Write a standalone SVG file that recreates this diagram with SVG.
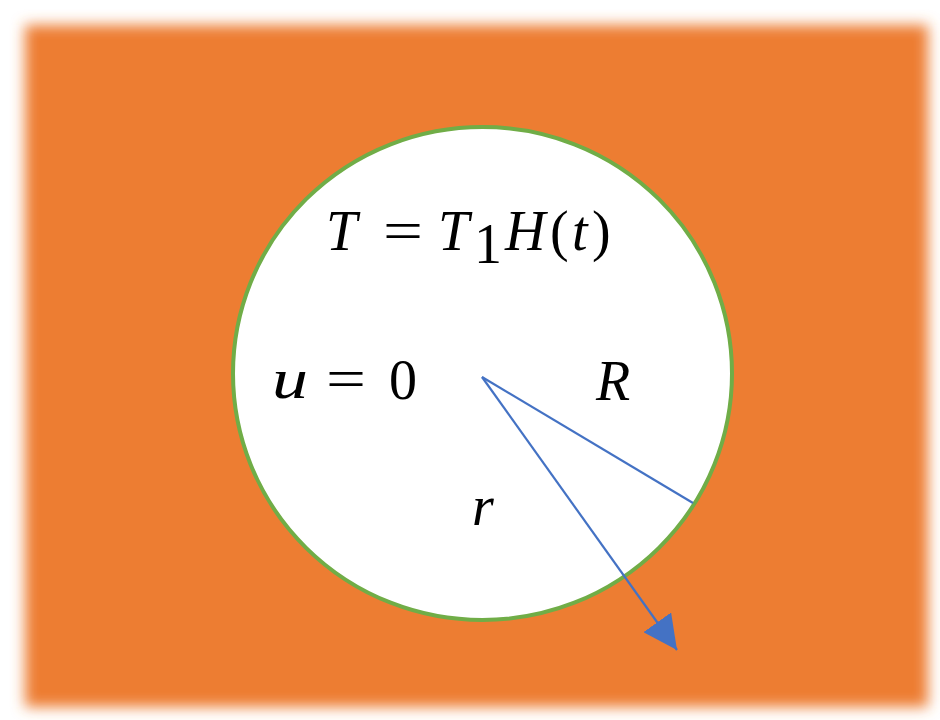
<svg xmlns="http://www.w3.org/2000/svg" width="940" height="720" viewBox="0 0 940 720">
  <defs>
    <filter id="soft" x="-10%" y="-10%" width="120%" height="120%">
      <feGaussianBlur stdDeviation="7"/>
    </filter>
    <marker id="arrow" viewBox="0 0 34 34" refX="34" refY="17" markerWidth="34" markerHeight="34" markerUnits="userSpaceOnUse" orient="auto">
      <path d="M0,0 L34,17 L0,34 z" fill="#4472C4"/>
    </marker>
  </defs>
  <style>
    .m { font-family: "Liberation Serif", "DejaVu Serif", serif; fill: #000; font-size: 56px; }
    .i { font-style: italic; }
    .ln { stroke: #4472C4; stroke-width: 2.2; fill: none; }
  </style>
  <rect width="940" height="720" fill="#ffffff"/>
  <g id="background">
    <rect x="25" y="25" width="903" height="682" fill="#ED7D31" filter="url(#soft)"/>
  </g>
  <g id="domain">
    <ellipse cx="482.5" cy="373.5" rx="249.5" ry="246.5" fill="#ffffff" stroke="#70AD47" stroke-width="4"/>
  </g>
  <g id="labels">
    <g id="label-T">
      <text class="m i" x="326" y="250">T</text>
      <text class="m" x="383" y="250" textLength="40" lengthAdjust="spacingAndGlyphs">=</text>
      <text class="m i" x="438" y="250">T</text>
      <text class="m" x="474" y="263" font-size="38">1</text>
      <text class="m i" x="505" y="250">H</text>
      <text class="m" x="550" y="250">(</text>
      <text class="m i" x="572" y="250">t</text>
      <text class="m" x="592" y="250">)</text>
    </g>
    <g id="label-u">
      <text class="m i" x="272" y="398" textLength="36" lengthAdjust="spacingAndGlyphs">u</text>
      <text class="m" x="326" y="398" textLength="40" lengthAdjust="spacingAndGlyphs">=</text>
      <text class="m" x="389" y="399">0</text>
    </g>
    <text id="label-R" class="m i" x="596" y="400">R</text>
    <text id="label-r" class="m i" x="472" y="525">r</text>
  </g>
  <g id="connectors">
    <line class="ln" x1="482" y1="377" x2="693" y2="503"/>
    <line class="ln" x1="482" y1="377" x2="677" y2="650" marker-end="url(#arrow)"/>
  </g>
</svg>
